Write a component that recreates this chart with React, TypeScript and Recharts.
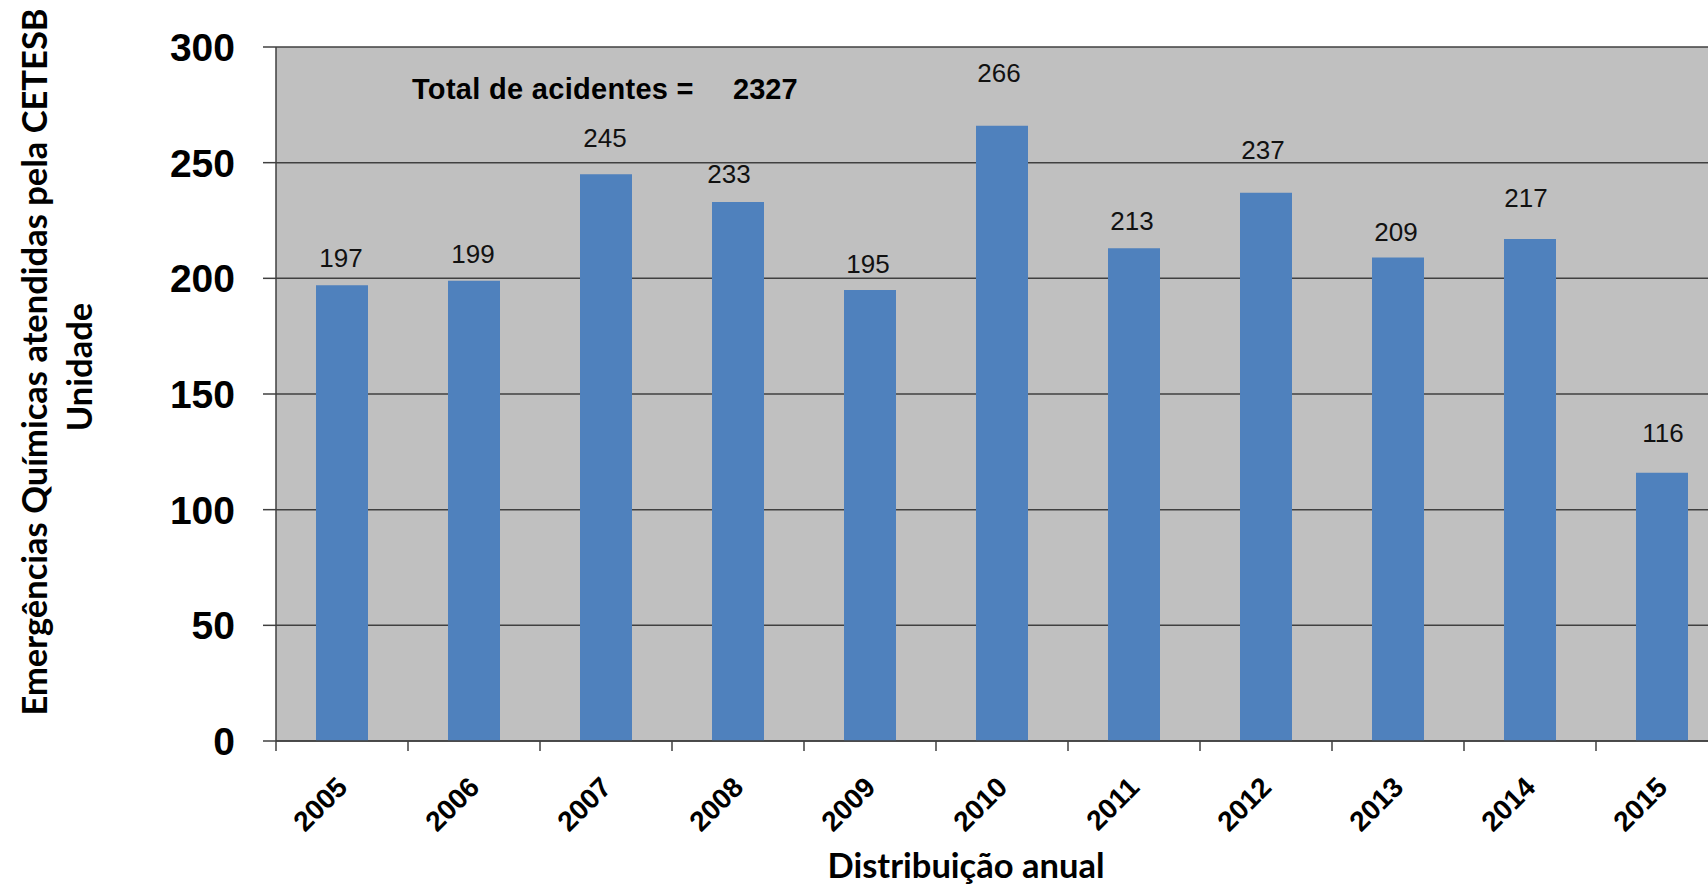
import React from 'react';
import { BarChart, Bar, XAxis, YAxis, CartesianGrid, LabelList, Label } from 'recharts';

// anos e número de emergências químicas atendidas
const years = ['2005', '2006', '2007', '2008', '2009', '2010', '2011', '2012', '2013', '2014', '2015'];
const emergencies = [197, 199, 245, 233, 195, 266, 213, 237, 209, 217, 116];
const yTicks = [0, 50, 100, 150, 200, 250, 300];

// manual nudges of the value labels (relative to the bar top), as in the original sheet
const labelDx = [-1, -1, -1, -9, -2, -3, -2, -3, -2, -4, 1];
const labelGap = [18, 18, 27, 19, 17, 44, 18, 34, 17, 32, 31];

const CHART_W = 1740;
const CHART_H = 885;
const AXIS_W = 276;
const MARGIN_TOP = 47;
const MARGIN_RIGHT = 12;
const X_AXIS_H = 144;
const PLOT_W = CHART_W - AXIS_W - MARGIN_RIGHT;
const BAND = PLOT_W / years.length;

const data = years.map((year, i) => ({ year, value: emergencies[i] }));
const total = emergencies.reduce((a, b) => a + b, 0);

const AXIS_COLOR = '#404040';
const ARIAL = '"Liberation Sans", Arial, sans-serif';
const CALIBRI = 'Lato, "Open Sans", sans-serif';

const XTick = ({ x, y, payload }: any) => {
    const tx = x + 7;
    const ty = y + 48;
    return (
        <g>
            <line x1={x - BAND / 2} y1={y} x2={x - BAND / 2} y2={y + 10} stroke={AXIS_COLOR} strokeWidth={1.5} />
            <text
                x={tx}
                y={ty}
                transform={`rotate(-45, ${tx}, ${ty})`}
                textAnchor="end"
                fontFamily={ARIAL}
                fontWeight="bold"
                fontSize={28}
                fill="#000"
            >
                {payload.value}
            </text>
        </g>
    );
};

const ValueLabel = (props: any) => {
    const { x, y, width, value, index } = props;
    return (
        <text
            x={x + width / 2 + labelDx[index]}
            y={y - labelGap[index]}
            textAnchor="middle"
            fontFamily={ARIAL}
            fontSize={26}
            fill="#111"
        >
            {value}
        </text>
    );
};

const YTitle = () => (
    <g fontFamily={CALIBRI} fontWeight="bold" fontSize={34.5} fill="#000">
        <text x={47} y={362} textAnchor="middle" transform="rotate(-90, 47, 362)">
            Emergências Químicas atendidas pela CETESB
        </text>
        <text x={92} y={367} textAnchor="middle" transform="rotate(-90, 92, 367)">
            Unidade
        </text>
    </g>
);

const XTitle = () => (
    <text x={966} y={878} textAnchor="middle" fontFamily={CALIBRI} fontWeight="bold" fontSize={34.5} fill="#000">
        Distribuição anual
    </text>
);

export default function App() {
    return (
        <div style={{ position: 'fixed', left: 0, top: 0, width: 1708, height: 885, overflow: 'hidden', background: '#fff' }}>
            <BarChart
                width={CHART_W}
                height={CHART_H}
                data={data}
                margin={{ top: MARGIN_TOP, right: MARGIN_RIGHT, bottom: 0, left: 0 }}
            >
                <CartesianGrid horizontal vertical={false} stroke={AXIS_COLOR} strokeWidth={1.5} fill="#C0C0C0" />
                <XAxis
                    dataKey="year"
                    height={X_AXIS_H}
                    tick={<XTick />}
                    tickLine={false}
                    tickSize={0}
                    tickMargin={0}
                    interval={0}
                    axisLine={{ stroke: AXIS_COLOR, strokeWidth: 1.5 }}
                >
                    <Label content={<XTitle />} />
                </XAxis>
                <YAxis
                    width={AXIS_W}
                    domain={[0, 300]}
                    ticks={yTicks}
                    interval={0}
                    tickSize={13}
                    tickMargin={28}
                    tick={{ fontFamily: ARIAL, fontWeight: 'bold', fontSize: 39, fill: '#000' }}
                    tickLine={{ stroke: AXIS_COLOR, strokeWidth: 1.5 }}
                    axisLine={{ stroke: AXIS_COLOR, strokeWidth: 1.5 }}
                >
                    <Label content={<YTitle />} />
                </YAxis>
                <Bar dataKey="value" fill="#4F81BD" barSize={52} isAnimationActive={false}>
                    <LabelList dataKey="value" content={<ValueLabel />} />
                </Bar>
            </BarChart>
            <svg width={1708} height={885} style={{ position: 'absolute', left: 0, top: 0, pointerEvents: 'none' }}>
                <text x={412} y={99} fontFamily={ARIAL} fontWeight="bold" fontSize={29} letterSpacing={0.3} fill="#000">
                    Total de acidentes =
                </text>
                <text x={733} y={99} fontFamily={ARIAL} fontWeight="bold" fontSize={29} fill="#000">
                    {total}
                </text>
            </svg>
        </div>
    );
}
